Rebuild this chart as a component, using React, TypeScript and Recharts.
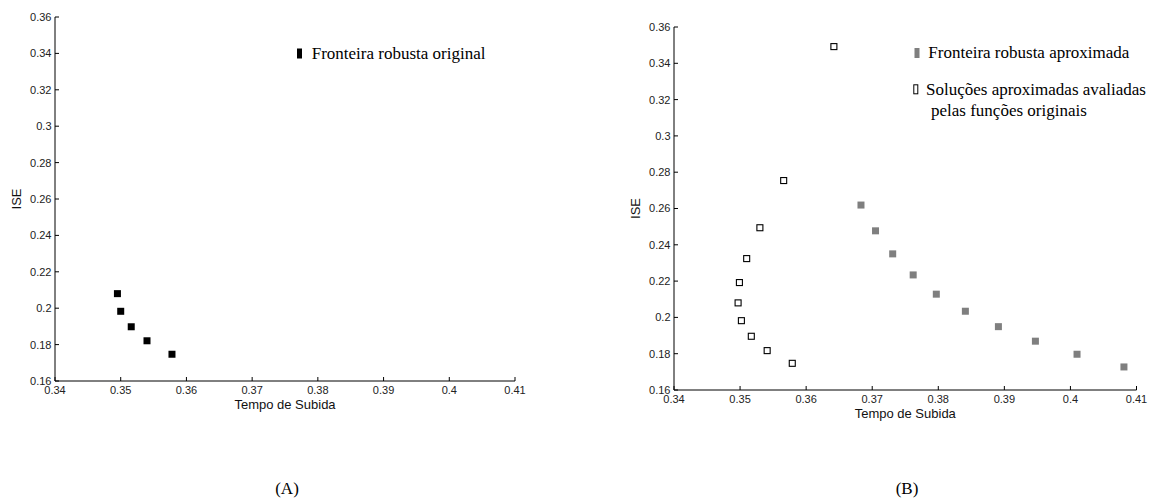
import React from "react";
import { ScatterChart, Scatter, XAxis, YAxis } from "recharts";

// (A) fronteira robusta original
const origX = [0.3495, 0.35, 0.3516, 0.354, 0.3578];
const origY = [0.208, 0.1983, 0.1898, 0.1821, 0.1747];

// (B) fronteira robusta aproximada
const approxX = [0.3683, 0.3705, 0.3731, 0.3762, 0.3797, 0.3841, 0.3891, 0.3947, 0.401, 0.4081];
const approxY = [0.2619, 0.2477, 0.235, 0.2234, 0.2128, 0.2034, 0.1949, 0.1869, 0.1797, 0.1727];

// (B) soluções aproximadas avaliadas pelas funções originais
const evalX = [0.3642, 0.3566, 0.353, 0.351, 0.3499, 0.3497, 0.3502, 0.3517, 0.3541, 0.3579];
const evalY = [0.3492, 0.2754, 0.2494, 0.2324, 0.2192, 0.208, 0.1982, 0.1896, 0.1817, 0.1747];

const xTicks = [0.34, 0.35, 0.36, 0.37, 0.38, 0.39, 0.4, 0.41];
const yTicks = [0.16, 0.18, 0.2, 0.22, 0.24, 0.26, 0.28, 0.3, 0.32, 0.34, 0.36];

const legendA = "Fronteira robusta original";
const legendB1 = "Fronteira robusta aproximada";
const legendB2 = ["Soluções aproximadas avaliadas", "pelas funções originais"];

const toPoints = (xs: number[], ys: number[]) => xs.map((x, i) => ({ x, y: ys[i] }));
const fmt = (v: number) => String(Number(v.toFixed(2)));

const sans = "'Liberation Sans', Arial, sans-serif";
const serif = "'Liberation Serif', 'Times New Roman', serif";
const tickStyle = { fontSize: 11, fill: "#222", fontFamily: sans };

const filledSquare = (color: string) => (p: any) => (
  <rect x={p.cx - 3.5} y={p.cy - 3.5} width={7} height={7} fill={color} />
);
const openSquare = (p: any) => (
  <rect x={p.cx - 3} y={p.cy - 3} width={6} height={6} fill="#fff" stroke="#000" strokeWidth={1.1} />
);

type PanelProps = { left: number; top: number; width: number; height: number; margin: any; children: React.ReactNode };

const Panel: React.FC<PanelProps> = ({ left, top, width, height, margin, children }) => (
  <div style={{ position: "absolute", left, top }}>
    <ScatterChart width={width} height={height} margin={margin}>
      <XAxis
        type="number"
        dataKey="x"
        domain={[0.34, 0.41]}
        ticks={xTicks}
        tickFormatter={fmt}
        tickSize={-4}
        tickMargin={9}
        height={35}
        stroke="#000"
        tick={tickStyle}
        label={{ value: "Tempo de Subida", position: "insideBottom", offset: 7, style: { fontSize: 13, fill: "#111", fontFamily: sans } }}
      />
      <YAxis
        type="number"
        dataKey="y"
        domain={[0.16, 0.36]}
        ticks={yTicks}
        tickFormatter={fmt}
        tickSize={-4}
        tickMargin={7.5}
        width={55}
        stroke="#000"
        tick={tickStyle}
        label={{ value: "ISE", angle: -90, position: "insideLeft", offset: 16, style: { fontSize: 13, fill: "#111", fontFamily: sans, textAnchor: "middle" } }}
      />
      {children}
    </ScatterChart>
  </div>
);

export default function App() {
  return (
    <div style={{ position: "absolute", left: 0, top: 0, width: 1151, height: 500, overflow: "hidden", background: "#fff" }}>
      <Panel left={0} top={0} width={540} height={440} margin={{ top: 17, right: 25, bottom: 24, left: 0 }}>
        <Scatter data={toPoints(origX, origY)} shape={filledSquare("#000")} isAnimationActive={false} />
      </Panel>
      <Panel left={619} top={0} width={532} height={440} margin={{ top: 27, right: 14.5, bottom: 15, left: 0 }}>
        <Scatter data={toPoints(approxX, approxY)} shape={filledSquare("#7f7f7f")} isAnimationActive={false} />
        <Scatter data={toPoints(evalX, evalY)} shape={openSquare} isAnimationActive={false} />
      </Panel>
      <svg width={1151} height={500} style={{ position: "absolute", left: 0, top: 0, pointerEvents: "none" }}>
        <g fontFamily={serif} fontSize={17} fill="#000">
          <rect x={297} y={48.5} width={5} height={10} fill="#000" />
          <text x={311.7} y={59}>{legendA}</text>
          <rect x={914.5} y={48} width={5} height={10} fill="#7f7f7f" />
          <text x={928.3} y={57.5}>{legendB1}</text>
          <rect x={913.8} y={84.8} width={4} height={9} fill="#fff" stroke="#000" strokeWidth={1} />
          <text x={926} y={95}>{legendB2[0]}</text>
          <text x={931} y={115.5}>{legendB2[1]}</text>
          <text x={287} y={494} fontSize={17} textAnchor="middle">(A)</text>
          <text x={907} y={494} fontSize={17} textAnchor="middle">(B)</text>
        </g>
      </svg>
    </div>
  );
}
